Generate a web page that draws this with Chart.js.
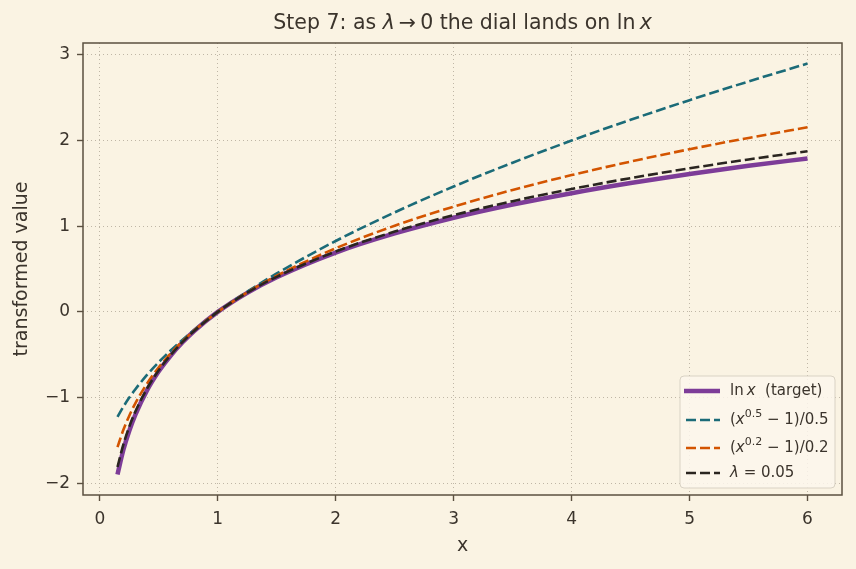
<!DOCTYPE html>
<html>
<head>
<meta charset="utf-8">
<script src="https://cdn.jsdelivr.net/npm/chart.js@4.4.0/dist/chart.umd.min.js"></script>
<style>
  html, body { margin: 0; padding: 0; background: #faf3e3; }
  #wrap { width: 856px; height: 569px; position: relative; }
</style>
</head>
<body>
<div id="wrap"><canvas id="c" width="856" height="569"></canvas></div>
<script>
// ---- data ----
const xValues      = [0.15, 0.2, 0.25, 0.3, 0.4, 0.5, 0.6, 0.7, 0.8, 1, 1.25, 1.5, 2, 2.5, 3, 3.5, 4, 4.5, 5, 5.5, 6];
const lnValues     = [-1.897, -1.609, -1.386, -1.204, -0.916, -0.693, -0.511, -0.357, -0.223, 0, 0.223, 0.405, 0.693, 0.916, 1.099, 1.253, 1.386, 1.504, 1.609, 1.705, 1.792];
const lam05Values  = [-1.225, -1.106, -1.0, -0.905, -0.735, -0.586, -0.451, -0.327, -0.211, 0, 0.236, 0.449, 0.828, 1.162, 1.464, 1.742, 2.0, 2.243, 2.472, 2.690, 2.899];
const lam02Values  = [-1.578, -1.376, -1.211, -1.070, -0.837, -0.647, -0.486, -0.344, -0.218, 0, 0.228, 0.422, 0.743, 1.006, 1.229, 1.424, 1.597, 1.755, 1.899, 2.031, 2.155];
const lam005Values = [-1.810, -1.546, -1.339, -1.168, -0.896, -0.681, -0.504, -0.353, -0.222, 0, 0.224, 0.410, 0.705, 0.938, 1.129, 1.293, 1.435, 1.562, 1.676, 1.780, 1.875];
const xTicks = [0, 1, 2, 3, 4, 5, 6];
const yTicks = [-2, -1, 0, 1, 2, 3];
const chartTitle = 'Step 7: as λ → 0 the dial lands on ln x';
const xLabel = 'x';
const yLabel = 'transformed value';
const seriesNames = ['ln x  (target)', '(x^0.5 − 1)/0.5', '(x^0.2 − 1)/0.2', 'λ = 0.05'];

// ---- styling ----
const BG = '#faf3e3';
const TXT = '#3b342c';
const SPINE = '#5b5040';
const GRID = '#b8af9f';
const COLORS = ['#7d3c98', '#1b6b78', '#d35400', '#2a2520'];
const FONT = 'DejaVu Sans';

const toPts = ys => xValues.map((x, i) => ({x, y: ys[i]}));

// legend rich labels (segments: text, style)
const legendSegs = [
  [['ln', 'n'], ['\u2009', 'n'], ['x', 'i'], ['  (target)', 'n']],
  [['(', 'n'], ['x', 'i'], ['0.5', 's'], [' − 1)/0.5', 'n']],
  [['(', 'n'], ['x', 'i'], ['0.2', 's'], [' − 1)/0.2', 'n']],
  [['λ', 'i'], [' = 0.05', 'n']]
];
const titleSegs = [
  ['Step 7: as ', 'n'], ['λ', 'i'], ['\u2009→\u20090 the dial lands on ', 'n'], ['ln', 'n'], ['\u2009', 'n'], ['x', 'i']
];

function segFont(style, size) {
  if (style === 'i') return `oblique ${size}px "${FONT}"`;
  if (style === 's') return `${Math.round(size * 0.7)}px "${FONT}"`;
  return `${size}px "${FONT}"`;
}
function segsWidth(ctx, segs, size) {
  let w = 0;
  for (const [t, s] of segs) { ctx.font = segFont(s, size); w += ctx.measureText(t).width; }
  return w;
}
function drawSegs(ctx, segs, x, y, size) {
  ctx.textBaseline = 'middle';
  ctx.textAlign = 'left';
  for (const [t, s] of segs) {
    ctx.font = segFont(s, size);
    const dy = s === 's' ? -size * 0.38 : 0;
    ctx.fillText(t, x, y + dy);
    x += ctx.measureText(t).width;
  }
}

const decor = {
  id: 'decor',
  beforeDraw(chart) {
    const ctx = chart.ctx;
    ctx.save();
    ctx.fillStyle = BG;
    ctx.fillRect(0, 0, chart.width, chart.height);
    ctx.restore();
  },
  afterDraw(chart) {
    const ctx = chart.ctx;
    const a = chart.chartArea;
    ctx.save();
    // frame
    ctx.strokeStyle = SPINE;
    ctx.lineWidth = 1.5;
    ctx.strokeRect(a.left, a.top, a.right - a.left, a.bottom - a.top);
    // title
    ctx.fillStyle = TXT;
    const tsize = 20.5;
    const tw = segsWidth(ctx, titleSegs, tsize);
    drawSegs(ctx, titleSegs, (a.left + a.right) / 2 - tw / 2, 24, tsize);
    // legend
    const lx = 680, ly = 376, lw = 155, lh = 112;
    ctx.beginPath();
    ctx.roundRect(lx, ly, lw, lh, 4);
    ctx.fillStyle = 'rgba(251,246,236,0.85)';
    ctx.fill();
    ctx.strokeStyle = '#d9d2c4';
    ctx.lineWidth = 1;
    ctx.stroke();
    const rows = [391, 420, 448, 473];
    chart.data.datasets.forEach((ds, i) => {
      const y = rows[i];
      ctx.beginPath();
      ctx.strokeStyle = ds.borderColor;
      ctx.lineWidth = ds.borderWidth;
      ctx.setLineDash(ds.borderDash || []);
      ctx.lineDashOffset = -2;
      ctx.moveTo(684, y);
      ctx.lineTo(720, y);
      ctx.stroke();
      ctx.setLineDash([]);
      ctx.fillStyle = TXT;
      drawSegs(ctx, legendSegs[i], 730, y, 15);
    });
    ctx.restore();
  }
};

const fmt = v => String(v).replace('-', '\u2212');

new Chart(document.getElementById('c'), {
  type: 'line',
  data: {
    datasets: [
      { label: seriesNames[0], data: toPts(lnValues), borderColor: COLORS[0], borderWidth: 4.5, order: 4 },
      { label: seriesNames[1], data: toPts(lam05Values), borderColor: COLORS[1], borderWidth: 2.6, borderDash: [10, 4], order: 3 },
      { label: seriesNames[2], data: toPts(lam02Values), borderColor: COLORS[2], borderWidth: 2.6, borderDash: [10, 4], order: 2 },
      { label: seriesNames[3], data: toPts(lam005Values), borderColor: COLORS[3], borderWidth: 2.6, borderDash: [10, 4], order: 1 }
    ]
  },
  options: {
    responsive: false,
    animation: false,
    devicePixelRatio: 1,
    layout: { padding: { left: 0, right: 14, top: 43, bottom: 0 } },
    elements: {
      point: { radius: 0, hoverRadius: 0 },
      line: { cubicInterpolationMode: 'monotone', fill: false, borderCapStyle: 'butt' }
    },
    plugins: { legend: { display: false }, title: { display: false }, tooltip: { enabled: false } },
    scales: {
      x: {
        type: 'linear',
        min: -0.1425, max: 6.2925,
        afterFit: s => { s.height = 569 - 495; },
        afterBuildTicks: s => { s.ticks = xTicks.map(v => ({value: v})); },
        border: { display: false, dash: [1, 3] },
        grid: { color: GRID, lineWidth: 0.9, tickLength: 6, tickColor: SPINE, tickWidth: 1.4, tickBorderDash: [] },
        ticks: { color: TXT, font: { family: FONT, size: 17 }, padding: 8, callback: v => fmt(v), maxRotation: 0 },
        title: { display: true, text: xLabel, color: TXT, font: { family: FONT, size: 19 }, padding: { top: 0, bottom: 12 } }
      },
      y: {
        type: 'linear',
        min: -2.137, max: 3.139,
        afterFit: s => { s.width = 83; },
        afterBuildTicks: s => { s.ticks = yTicks.map(v => ({value: v})); },
        border: { display: false, dash: [1, 3] },
        grid: { color: GRID, lineWidth: 0.9, tickLength: 6, tickColor: SPINE, tickWidth: 1.4, tickBorderDash: [] },
        ticks: { color: TXT, font: { family: FONT, size: 17 }, padding: 7, callback: v => fmt(v) },
        title: { display: true, text: yLabel, color: TXT, font: { family: FONT, size: 19 }, padding: { top: 10.6, bottom: 0 } }
      }
    }
  },
  plugins: [decor]
});
</script>
</body>
</html>
